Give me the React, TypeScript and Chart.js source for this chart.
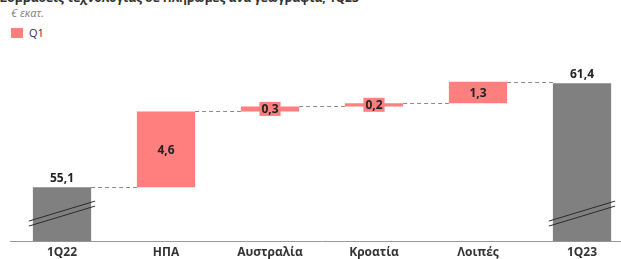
import React, { useEffect, useRef } from "react";
import { Chart, registerables } from "chart.js";

Chart.register(...registerables);

const categories = ["1Q22", "ΗΠΑ", "Αυστραλία", "Κροατία", "Λοιπές", "1Q23"];
const startValue = 55.1;
const endValue = 61.4;
const deltas = [4.6, 0.3, 0.2, 1.3];
const axisMin = 51.8;
const axisMax = 63;
const breakValue = 53.5;

const titleText = "Συμβάσεις τεχνολογίας σε Πληρωμές ανά γεωγραφία, 1Q23";
const subtitleText = "€ εκατ.";
const legendLabel = "Q1";

const RED = "#FF7F7F";
const GRAY = "#808080";
const FONT = "'Open Sans', 'Noto Sans', sans-serif";

const fmt = (v: number) => v.toFixed(1).replace(".", ",");

function buildBars() {
  const bars: [number, number][] = [[axisMin, startValue]];
  const labels: string[] = [fmt(startValue)];
  const ends: number[] = [startValue];
  let cum = startValue;
  deltas.forEach((d) => {
    bars.push([cum, cum + d]);
    labels.push(fmt(d));
    cum += d;
    ends.push(cum);
  });
  bars.push([axisMin, endValue]);
  labels.push(fmt(endValue));
  ends.push(endValue);
  return { bars, labels, ends };
}

export default function App() {
  const ref = useRef<HTMLCanvasElement | null>(null);

  useEffect(() => {
    if (!ref.current) return;
    const { bars, labels, ends } = buildBars();
    const n = bars.length;
    const colors = bars.map((_, i) => (i === 0 || i === n - 1 ? GRAY : RED));

    const overlay = {
      id: "waterfallOverlay",
      afterDatasetsDraw(chart: any) {
        const ctx = chart.ctx;
        const meta = chart.getDatasetMeta(0);
        const yScale = chart.scales.y;
        ctx.save();
        // connectors
        ctx.strokeStyle = "#8a8a8a";
        ctx.lineWidth = 1;
        ctx.setLineDash([4, 3]);
        for (let i = 0; i < n - 1; i++) {
          const a = meta.data[i];
          const b = meta.data[i + 1];
          const y = Math.round(yScale.getPixelForValue(ends[i])) + 0.5;
          ctx.beginPath();
          ctx.moveTo(a.x + a.width / 2, y);
          ctx.lineTo(b.x - b.width / 2, y);
          ctx.stroke();
        }
        ctx.setLineDash([]);
        // break marks on totals
        [0, n - 1].forEach((i) => {
          const el = meta.data[i];
          const yc = yScale.getPixelForValue(breakValue);
          const x0 = el.x - el.width / 2 - 4;
          const x1 = el.x + el.width / 2 + 4;
          const dy = 10;
          ctx.strokeStyle = "#2b2b2b";
          ctx.lineWidth = 1;
          [-2.5, 2.5].forEach((off) => {
            ctx.beginPath();
            ctx.moveTo(x0, yc + dy + off);
            ctx.lineTo(x1, yc - dy + off);
            ctx.stroke();
          });
        });
        // labels
        ctx.font = `bold 12px ${FONT}`;
        ctx.textAlign = "center";
        for (let i = 0; i < n; i++) {
          const el = meta.data[i];
          if (i === 0 || i === n - 1) {
            ctx.fillStyle = "#222";
            ctx.textBaseline = "bottom";
            ctx.fillText(labels[i], el.x, el.y - 3);
          } else {
            const yc = (el.y + el.base) / 2;
            const w = ctx.measureText(labels[i]).width + 4;
            const h = 14;
            ctx.fillStyle = RED;
            ctx.fillRect(el.x - w / 2, yc - h / 2, w, h);
            ctx.fillStyle = "#222";
            ctx.textBaseline = "middle";
            ctx.fillText(labels[i], el.x, yc + 1);
          }
        }
        ctx.restore();
      },
    };

    const chart = new Chart(ref.current, {
      type: "bar",
      data: {
        labels: categories,
        datasets: [
          {
            label: legendLabel,
            data: bars as any,
            backgroundColor: colors,
            borderWidth: 0,
            barPercentage: 0.56,
            categoryPercentage: 1,
          },
        ],
      },
      options: {
        responsive: false,
        animation: false,
        devicePixelRatio: 1,
        layout: { padding: { left: 10, right: 0, top: 17, bottom: 0 } },
        plugins: {
          legend: { display: false },
          tooltip: { enabled: false },
          title: { display: false },
        },
        scales: {
          x: {
            grid: { display: false, drawTicks: false },
            border: { display: true, color: "#9a9a9a", width: 1 },
            ticks: {
              color: "#333",
              padding: 4,
              font: { family: FONT, size: 12, weight: "bold" },
            },
          },
          y: { display: false, min: axisMin, max: axisMax },
        },
      },
      plugins: [overlay],
    });
    return () => chart.destroy();
  }, []);

  return (
    <div
      style={{
        position: "absolute",
        left: 0,
        top: 0,
        width: 621,
        height: 259,
        overflow: "hidden",
        background: "#fff",
        fontFamily: FONT,
      }}
    >
      <div
        style={{
          position: "absolute",
          left: 0,
          top: -9,
          fontSize: 12,
          lineHeight: "14px",
          fontWeight: "bold",
          color: "#333",
          whiteSpace: "nowrap",
        }}
      >
        {titleText}
      </div>
      <div
        style={{
          position: "absolute",
          left: 11,
          top: 6,
          fontSize: 11,
          lineHeight: "14px",
          fontStyle: "italic",
          color: "#808080",
          whiteSpace: "nowrap",
        }}
      >
        {subtitleText}
      </div>
      <div
        style={{
          position: "absolute",
          left: 11,
          top: 28,
          width: 12,
          height: 10,
          background: RED,
        }}
      />
      <div
        style={{
          position: "absolute",
          left: 29,
          top: 26,
          fontSize: 11,
          lineHeight: "14px",
          color: "#333",
        }}
      >
        {legendLabel}
      </div>
      <canvas
        ref={ref}
        width={634}
        height={224}
        style={{ position: "absolute", left: 0, top: 40, width: 634, height: 224 }}
      />
    </div>
  );
}
